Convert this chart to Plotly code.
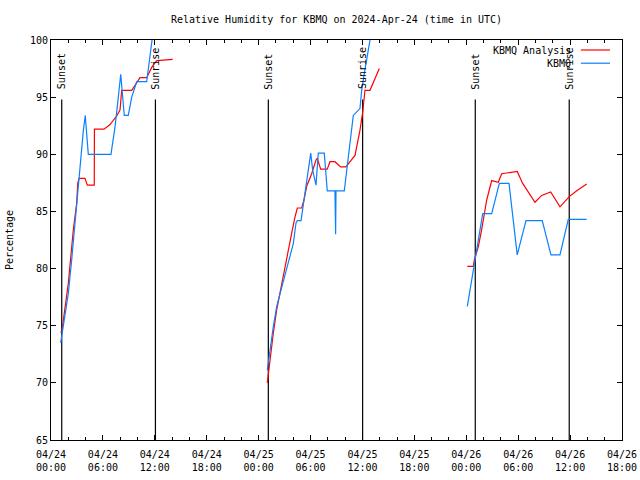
import pandas as pd
import plotly.graph_objects as go

BASE = pd.Timestamp("2024-04-24 00:00")

# KBMQ Analysis (red), hours since 2024-04-24 00:00 UTC, three segments
red_h1 = [1.12, 1.27, 2.00, 2.58, 2.97, 3.09, 3.24, 3.93, 4.20, 5.00, 5.02, 6.13, 6.82, 7.59, 7.98, 8.17, 9.33, 10.29, 11.06, 11.64, 12.22, 14.07]
red_v1 = [74.4, 74.6, 78.7, 83.4, 85.7, 87.45, 87.9, 87.9, 87.3, 87.3, 92.2, 92.2, 92.6, 93.35, 93.9, 95.6, 95.6, 96.7, 96.7, 97.6, 98.2, 98.3]
red_h2 = [25.00, 25.31, 25.69, 26.09, 26.66, 27.24, 27.82, 28.20, 28.47, 28.98, 29.24, 29.55, 30.13, 30.63, 30.78, 31.17, 31.93, 32.25, 32.82, 33.48, 34.10, 34.56, 35.14, 35.71, 36.03, 36.29, 36.87, 37.95]
red_v2 = [70.0, 72.0, 74.3, 76.4, 78.7, 81.0, 83.1, 84.5, 85.3, 85.3, 86.0, 87.2, 88.3, 89.5, 89.65, 88.7, 88.7, 89.35, 89.35, 88.9, 88.9, 89.35, 89.9, 92.1, 93.7, 95.6, 95.6, 97.5]
red_h3 = [48.12, 48.81, 48.93, 49.39, 49.78, 50.36, 50.94, 51.70, 52.09, 53.13, 53.89, 54.52, 55.17, 55.94, 56.72, 57.76, 58.83, 59.91, 60.76, 61.92]
red_v3 = [80.2, 80.2, 80.75, 81.9, 83.4, 86.0, 87.7, 87.55, 88.3, 88.4, 88.5, 87.45, 86.7, 85.8, 86.4, 86.7, 85.4, 86.3, 86.8, 87.4]

# KBMQ observations (blue)
blue_h1 = [1.12, 1.62, 2.00, 2.39, 2.77, 3.16, 3.35, 3.73, 3.96, 4.31, 6.93, 7.40, 7.78, 8.06, 8.47, 8.93, 9.33, 9.91, 11.06, 11.36, 11.64, 11.85]
blue_v1 = [73.5, 75.8, 77.8, 80.75, 84.0, 87.45, 89.0, 92.0, 93.4, 90.0, 90.0, 92.4, 95.0, 97.0, 93.4, 93.4, 95.0, 96.35, 96.35, 98.25, 100.0, 101.0]
blue_h2 = [25.00, 25.31, 25.69, 26.09, 26.47, 27.05, 27.62, 28.01, 28.32, 28.47, 28.90, 29.24, 29.74, 30.02, 30.25, 30.63, 30.89, 31.59, 31.93, 32.82, 32.90, 32.94, 33.90, 34.36, 34.94, 35.71, 35.91, 36.29, 36.87, 37.10]
blue_v2 = [71.1, 72.9, 74.9, 76.7, 77.8, 79.6, 81.0, 82.2, 84.0, 84.2, 84.2, 86.0, 88.6, 90.1, 88.6, 87.3, 90.1, 90.1, 86.8, 86.8, 83.0, 86.8, 86.8, 89.8, 93.4, 94.0, 95.6, 97.4, 100.0, 101.0]
blue_h3 = [48.12, 49.01, 49.90, 50.94, 51.82, 52.94, 53.89, 54.90, 56.78, 57.79, 58.83, 59.79, 61.92]
blue_v3 = [76.7, 80.75, 84.8, 84.8, 87.45, 87.45, 81.2, 84.2, 84.2, 81.2, 81.2, 84.3, 84.3]

sunset_h = [1.24, 25.12, 49.04]
sunrise_h = [12.07, 36.02, 59.90]
sun_line_top = 94.8
sun_label_y = 95.5

FONT = "DejaVu Sans Mono"


def to_t(hours):
    return [None if h is None else BASE + pd.Timedelta(hours=h) for h in hours]


def join(*segs):
    out = []
    for i, s in enumerate(segs):
        if i:
            out.append(None)
        out.extend(s)
    return out


fig = go.Figure()
fig.add_trace(go.Scatter(
    x=to_t(join(red_h1, red_h2, red_h3)), y=join(red_v1, red_v2, red_v3),
    mode="lines", name="KBMQ Analysis", line=dict(color="#ff0000", width=1.2),
    connectgaps=False))
fig.add_trace(go.Scatter(
    x=to_t(join(blue_h1, blue_h2, blue_h3)), y=join(blue_v1, blue_v2, blue_v3),
    mode="lines", name="KBMQ", line=dict(color="#0a80ff", width=1.2),
    connectgaps=False))

for hs, label in ((sunset_h, "Sunset"), (sunrise_h, "Sunrise")):
    for h in hs:
        t = BASE + pd.Timedelta(hours=h)
        fig.add_shape(type="line", xref="x", yref="y", x0=t, x1=t, y0=65, y1=sun_line_top,
                      line=dict(color="black", width=1.2), layer="below")
        fig.add_annotation(x=t, y=sun_label_y, xref="x", yref="y", text=label,
                           textangle=-90, showarrow=False, xanchor="center", yanchor="bottom",
                           font=dict(family=FONT, size=10, color="black"))

# manual gnuplot-style legend
legend_items = [("KBMQ Analysis", "#ff0000", 0.975), ("KBMQ", "#0a80ff", 0.942)]
for name, col, yp in legend_items:
    fig.add_annotation(x=0.915, y=yp, xref="paper", yref="paper", text=name, showarrow=False,
                       xanchor="right", yanchor="middle",
                       font=dict(family=FONT, size=10, color="black"))
    fig.add_shape(type="line", xref="paper", yref="paper", x0=0.928, x1=0.979, y0=yp, y1=yp,
                  line=dict(color=col, width=1.2))

fig.update_layout(
    width=640, height=480,
    margin=dict(l=51, r=18, t=40, b=40, autoexpand=False),
    paper_bgcolor="white", plot_bgcolor="white",
    showlegend=False,
    font=dict(family=FONT, size=10, color="black"),
    title=dict(text="Relative Humidity for KBMQ on 2024-Apr-24 (time in UTC)",
               x=0.5, xref="paper", xanchor="center", y=1 - 19 / 480, yref="container",
               yanchor="middle", automargin=False,
               font=dict(family=FONT, size=10, color="black")),
)
fig.update_xaxes(
    type="date", automargin=False,
    range=[BASE, BASE + pd.Timedelta(hours=66)],
    dtick=6 * 3600000, tick0=BASE,
    tickformat="%m/%d<br>%H:%M",
    ticks="inside", ticklen=5, tickcolor="black",
    ticklabelstandoff=5,
    minor=dict(dtick=2 * 3600000, ticks="inside", ticklen=3, tickcolor="black", showgrid=False),
    showline=True, linecolor="black", linewidth=1, mirror="ticks",
    showgrid=False, zeroline=False,
    tickfont=dict(family=FONT, size=10, color="black"),
)
fig.update_yaxes(
    automargin=False,
    range=[65, 100], dtick=5, tick0=65,
    ticks="inside", ticklen=5, tickcolor="black",
    showline=True, linecolor="black", linewidth=1, mirror="ticks",
    showgrid=False, zeroline=False,
    title=dict(text="Percentage", standoff=14, font=dict(family=FONT, size=10, color="black")),
    tickfont=dict(family=FONT, size=10, color="black"),
)

fig.write_html("out.html", config={"displayModeBar": False},
               post_script="document.body.style.margin='0px';")
